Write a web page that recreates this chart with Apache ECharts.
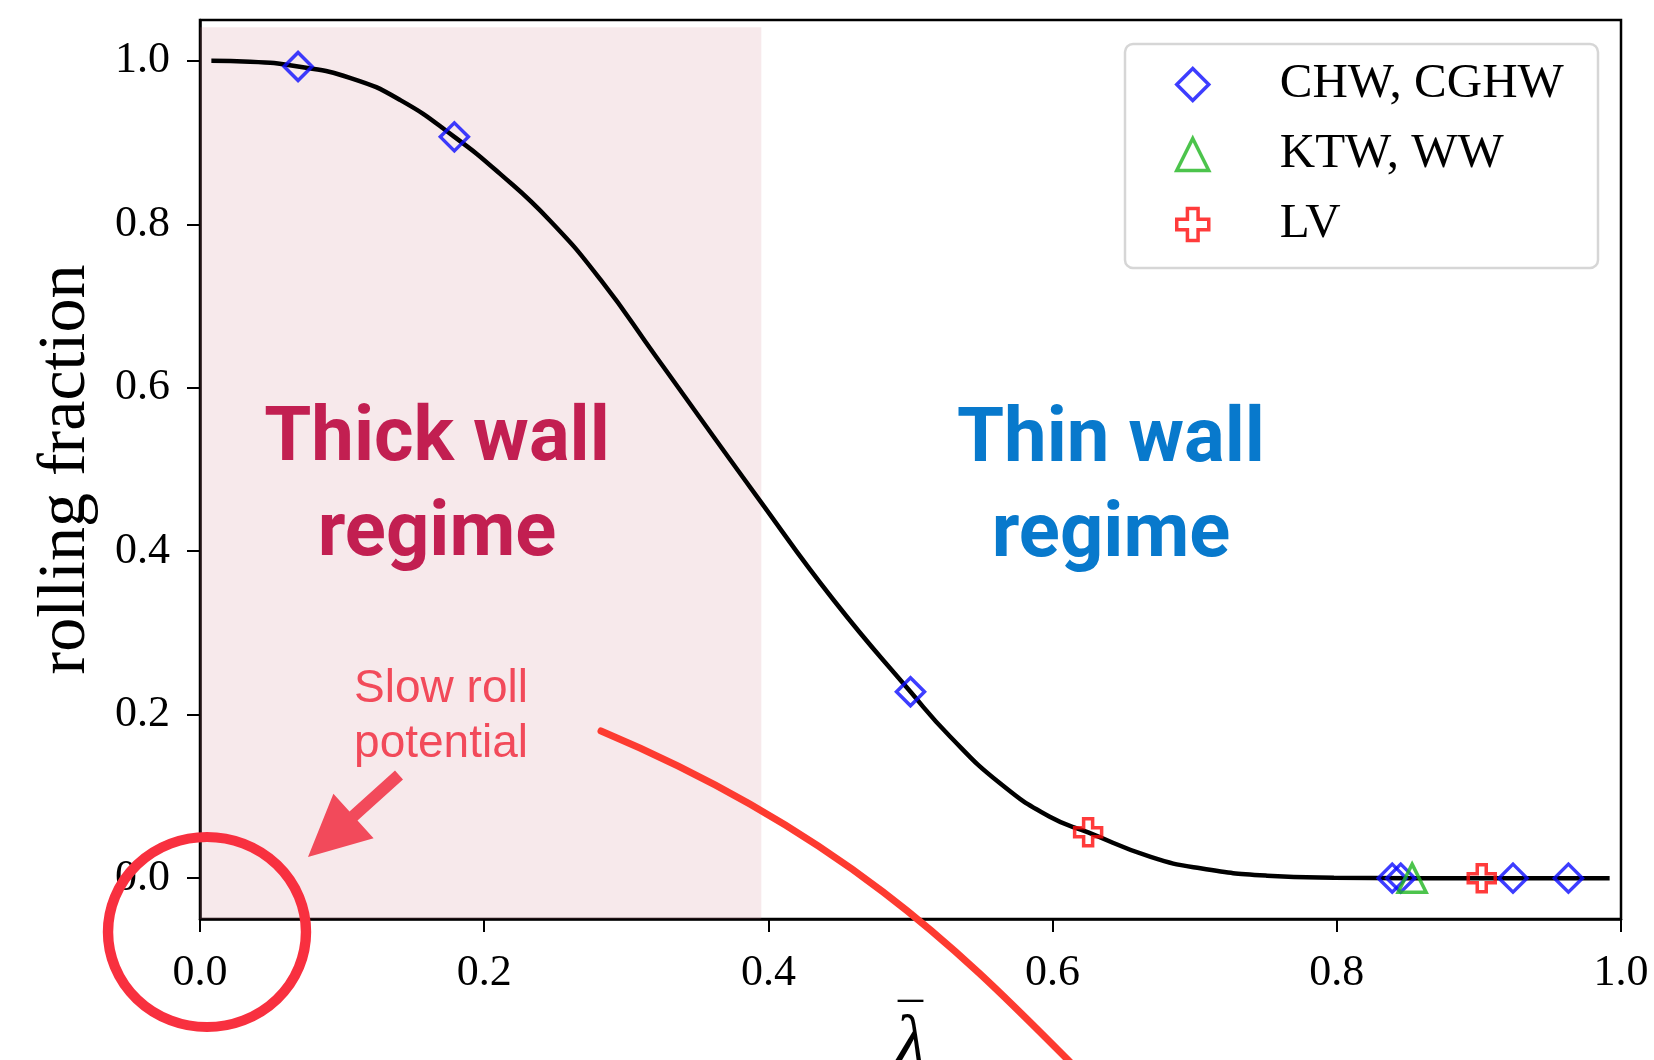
<!DOCTYPE html>
<html>
<head>
<meta charset="utf-8">
<script src="https://cdn.jsdelivr.net/npm/echarts@6/dist/echarts.min.js"></script>
<style>
  html, body { margin: 0; padding: 0; background: #ffffff; }
  #chart { width: 1654px; height: 1060px; }
</style>
</head>
<body>
<div id="chart"></div>
<script>
// ---- data ----
const curveX = [0.008, 0.035, 0.069, 0.106, 0.141, 0.179, 0.211, 0.246, 0.282, 0.321, 0.394, 0.446, 0.500, 0.528, 0.563, 0.598, 0.625, 0.669, 0.704, 0.751, 0.798, 0.850, 0.900, 0.950, 0.992];
const curveY = [1.000, 0.999, 0.993, 0.979, 0.952, 0.907, 0.862, 0.805, 0.732, 0.638, 0.462, 0.340, 0.228, 0.173, 0.116, 0.075, 0.056, 0.026, 0.012, 0.003, 0.0005, 0, 0, 0, 0];

const chwX = [0.069, 0.179, 0.500, 0.839, 0.845, 0.924, 0.963];
const chwY = [0.993, 0.907, 0.228, 0, 0, 0, 0];
const ktwX = [0.853];
const ktwY = [0];
const lvX = [0.625, 0.902];
const lvY = [0.056, 0];

const seriesNames = ['CHW, CGHW', 'KTW, WW', 'LV'];
const xTicks = [0, 0.2, 0.4, 0.6, 0.8, 1.0];
const yTicks = [0, 0.2, 0.4, 0.6, 0.8, 1.0];
const thickRegion = [0, 0.395];

const zip = (a, b) => a.map((v, i) => [v, b[i]]);

const serif = '"Liberation Serif", "DejaVu Serif", serif';
const plusPath = 'path://M10,0 H20 V10 H30 V20 H20 V30 H10 V20 H0 V10 H10 Z';
const blue = '#0c0cff', green = '#1fb51f', red = '#ff0a0a';

const chart = echarts.init(document.getElementById('chart'), null, { renderer: 'canvas' });

const option = {
  backgroundColor: '#ffffff',
  animation: false,
  grid: {
    left: 200, right: 33, top: 20, bottom: 141,
    containLabel: false, outerBoundsMode: 'none',
    show: true, borderColor: '#000', borderWidth: 2.5, backgroundColor: 'transparent'
  },
  xAxis: {
    type: 'value', min: 0, max: 1, interval: 0.2,
    name: '{bar|¯}\n{lam|λ}', nameLocation: 'middle', nameGap: 91,
    nameTextStyle: {
      color: '#000',
      rich: {
        bar: { fontFamily: serif, fontSize: 50, lineHeight: 2, color: '#000' },
        lam: { fontFamily: serif, fontStyle: 'italic', fontSize: 72, lineHeight: 41, color: '#000' }
      }
    },
    axisLine: { show: true, onZero: false, lineStyle: { color: '#000', width: 2.5 } },
    axisTick: { show: true, length: 13, lineStyle: { color: '#000', width: 2 }, customValues: xTicks },
    axisLabel: { show: true, margin: 32, fontFamily: serif, fontSize: 44, color: '#000',
      customValues: xTicks, formatter: v => v.toFixed(1) },
    splitLine: { show: false }
  },
  yAxis: {
    type: 'value', min: -0.05, max: 1.05,
    name: 'rolling fraction', nameLocation: 'middle', nameGap: 100,
    nameTextStyle: { fontFamily: serif, fontSize: 68, color: '#000' },
    axisLine: { show: true, onZero: false, lineStyle: { color: '#000', width: 2.5 } },
    axisTick: { show: true, length: 13, lineStyle: { color: '#000', width: 2 }, customValues: yTicks },
    axisLabel: { show: true, margin: 30, fontFamily: serif, fontSize: 44, color: '#000',
      customValues: yTicks, formatter: v => v.toFixed(1) },
    splitLine: { show: false }
  },
  legend: {
    orient: 'vertical', left: 1175, top: 60, padding: 0,
    itemWidth: 32, itemHeight: 32, itemGap: 21,
    selectedMode: false,
    textStyle: { fontFamily: serif, fontSize: 49, color: '#000', lineHeight: 32, padding: [0, 0, 0, 66] },
    data: [
      { name: seriesNames[0], icon: 'diamond', itemStyle: { color: 'transparent', borderColor: blue, borderWidth: 3.5 } },
      { name: seriesNames[1], icon: 'triangle', itemStyle: { color: 'transparent', borderColor: green, borderWidth: 3.5 } },
      { name: seriesNames[2], icon: plusPath, itemStyle: { color: 'transparent', borderColor: red, borderWidth: 3.5 } }
    ]
  },
  series: [
    {
      name: 'fit', type: 'line', z: 2,
      data: zip(curveX, curveY),
      showSymbol: false, smooth: 0.5,
      lineStyle: { color: '#000', width: 4.5 },
      silent: true
    },
    {
      name: seriesNames[0], type: 'scatter', z: 4,
      data: zip(chwX, chwY),
      symbol: 'diamond', symbolSize: 28,
      itemStyle: { color: 'transparent', borderColor: blue, borderWidth: 3.5 }
    },
    {
      name: seriesNames[1], type: 'scatter', z: 4,
      data: zip(ktwX, ktwY),
      symbol: 'triangle', symbolSize: 28,
      itemStyle: { color: 'transparent', borderColor: green, borderWidth: 3.5 }
    },
    {
      name: seriesNames[2], type: 'scatter', z: 4,
      data: zip(lvX, lvY),
      symbol: plusPath, symbolSize: 27,
      itemStyle: { color: 'transparent', borderColor: red, borderWidth: 3.5 }
    },
    {
      name: 'shade', type: 'scatter', z: 6, data: [], clip: false, silent: true,
      markArea: {
        silent: true,
        itemStyle: { color: 'rgba(205,120,128,0.16)' },
        data: [[{ xAxis: thickRegion[0], yAxis: 1.041 }, { xAxis: thickRegion[1], yAxis: -0.057 }]]
      }
    }
  ],
  graphic: [
    {
      type: 'rect', z: 1, silent: true,
      shape: { x: 1125, y: 44, width: 473, height: 224, r: 8 },
      style: { fill: 'rgba(255,255,255,0.85)', stroke: '#d6d6d6', lineWidth: 2.5 }
    },
    {
      type: 'text', z: 50, silent: true, x: 437, y: 488,
      style: { text: 'Thick wall\nregime', fill: '#c21f51', font: 'bold 76px Roboto, "Liberation Sans", sans-serif',
        lineHeight: 95, align: 'center', verticalAlign: 'middle' }
    },
    {
      type: 'text', z: 50, silent: true, x: 1111, y: 489,
      style: { text: 'Thin wall\nregime', fill: '#0879cc', font: 'bold 76px Roboto, "Liberation Sans", sans-serif',
        lineHeight: 95, align: 'center', verticalAlign: 'middle' }
    },
    {
      type: 'text', z: 50, silent: true, x: 441, y: 717,
      style: { text: 'Slow roll\npotential', fill: '#f24a5a', font: '46px "Liberation Sans", Arial, sans-serif',
        lineHeight: 55, align: 'center', verticalAlign: 'middle' }
    },
    {
      type: 'bezierCurve', z: 60, silent: true,
      shape: { x1: 601, y1: 731, cpx1: 851, cpy1: 836, cpx2: 972, cpy2: 964, x2: 1072, y2: 1064 },
      style: { stroke: '#fd3b30', lineWidth: 7, lineCap: 'round', fill: null }
    },
    {
      type: 'polygon', z: 60, silent: true,
      shape: { points: [[395, 770.5], [349.5, 811.5], [333.4, 793.7], [308, 857], [373.6, 838.3], [357.5, 820.5], [403, 779.5]] },
      style: { fill: '#f24a5b' }
    },
    {
      type: 'circle', z: 60, silent: true, x: 207, y: 932, scaleX: 1.042, scaleY: 1,
      shape: { cx: 0, cy: 0, r: 95 },
      style: { fill: null, stroke: '#f8303f', lineWidth: 10, strokeNoScale: true }
    }
  ]
};

chart.setOption(option);
</script>
</body>
</html>
